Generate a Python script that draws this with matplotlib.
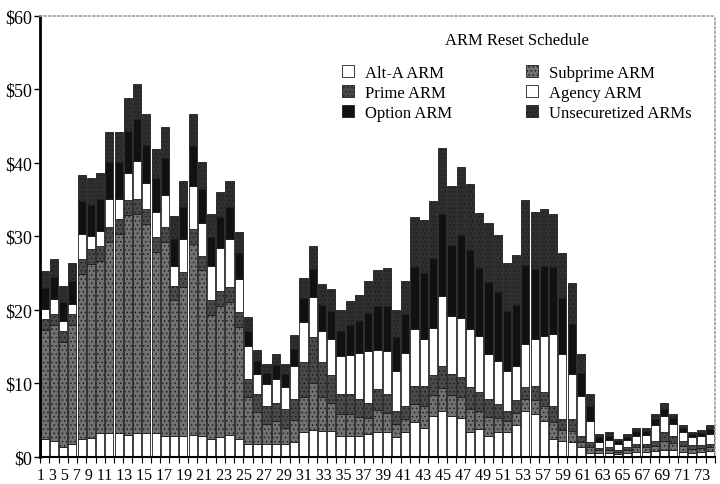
import numpy as np
import matplotlib
matplotlib.use("Agg")
import matplotlib.pyplot as plt

plt.rcParams['font.family'] = ['Liberation Serif', 'DejaVu Serif']
plt.rcParams['hatch.linewidth'] = 0.6

# ARM reset amounts, $ billions, 73 months
agency = [2.4,2.2,1.4,1.8,2.4,2.6,3.3,3.3,3.3,3.0, 3.3,3.3,3.2,2.9,2.9,2.9,3.0,2.9,2.5,2.7,
          3.0,2.5,1.8,1.8,1.8,1.8,1.8,2.0,3.4,3.7, 3.5,3.6,2.9,2.9,2.9,3.1,3.4,3.4,2.7,3.4,
          4.7,4.0,5.6,6.3,5.6,5.3,3.4,3.8,2.9,3.4, 3.4,4.3,6.3,5.9,4.9,2.4,2.2,2.0,1.3,0.6,
          0.5,0.5,0.4,0.5,0.7,0.7,0.8,0.9,0.9,0.7, 0.6,0.7,0.8]
subprime = [14.9,15.8,14.3,16.2,22.5,23.7,23.4,26.0,27.1,29.9, 29.8,28.4,24.7,26.4,18.4,20.2,26.0,22.5,16.8,17.9,
            18.1,15.2,6.3,4.3,2.7,3.1,2.2,3.0,4.8,6.3, 4.7,3.8,2.9,2.9,2.5,2.2,3.0,2.6,1.8,1.8,
            2.5,2.9,2.8,3.1,2.9,2.8,3.1,2.5,2.5,1.9, 1.5,1.7,1.6,1.9,2.0,2.3,1.5,1.6,0.8,0.7,
            0.4,0.4,0.3,0.4,0.6,0.6,0.7,1.3,1.0,0.8, 0.5,0.5,0.5]
prime = [1.5,1.5,1.5,1.5,2.0,2.0,2.0,2.0,2.0,2.0, 2.0,2.0,2.0,2.0,2.0,2.0,2.0,2.0,2.0,2.0,
         2.0,2.0,2.5,2.5,2.5,2.5,2.5,2.9,4.7,6.3, 4.7,3.7,2.8,2.8,2.5,2.1,2.9,2.6,1.8,1.8,
         2.5,2.8,2.7,3.0,2.8,2.8,3.0,2.5,2.5,1.9, 1.4,1.7,1.6,1.9,1.9,2.3,1.5,1.6,0.8,0.7,
         0.3,0.4,0.3,0.4,0.5,0.5,0.7,1.2,1.0,0.7, 0.5,0.4,0.5]
alta = [1.3,2.0,1.3,1.3,3.4,1.7,2.1,3.8,2.7,3.8, 5.2,3.6,3.4,4.3,2.7,4.6,5.9,4.5,4.7,5.9,
        6.6,4.5,4.5,2.7,2.9,3.2,3.0,4.5,5.4,5.4, 4.3,5.0,5.2,5.3,6.3,7.0,5.3,5.8,5.4,7.2,
        7.7,6.4,6.5,9.5,7.9,8.0,7.9,7.7,6.1,5.9, 5.4,4.7,5.9,6.4,7.7,9.8,8.8,6.1,5.4,2.9,
        0.9,1.0,0.8,1.0,1.1,1.2,2.1,2.2,1.6,1.2, 1.1,1.3,1.3]
option = [2.9,3.0,2.6,3.1,4.5,4.3,4.3,5.0,5.0,5.6, 5.7,5.2,4.7,5.1,3.7,4.3,5.4,4.6,3.9,4.1,
          4.3,3.5,2.1,1.8,1.5,1.9,1.8,2.3,3.3,3.9, 3.5,3.7,3.4,4.0,4.3,5.2,5.9,6.2,4.6,5.3,
          8.4,8.9,9.5,11.1,9.7,11.3,10.8,9.2,9.8,9.4, 8.1,8.3,10.7,9.5,9.5,9.0,7.6,6.8,3.1,2.0,
          0.6,0.6,0.4,0.4,0.6,0.6,0.9,0.9,0.8,0.6, 0.4,0.4,0.7]
unsec = [2.3,2.4,2.2,2.5,3.6,3.6,3.6,4.1,4.1,4.6, 4.7,4.2,3.9,4.2,3.1,3.6,4.4,3.7,3.2,3.4,
         3.6,2.9,1.8,1.5,1.3,1.5,1.4,1.9,2.7,3.1, 2.8,3.1,2.8,3.3,3.6,4.3,4.9,5.1,3.7,4.4,
         6.9,7.2,7.7,9.1,7.9,9.2,8.9,7.5,8.1,7.7, 6.6,6.8,8.8,7.7,7.8,7.3,6.2,5.6,2.6,1.7,
         0.4,0.5,0.3,0.4,0.5,0.4,0.7,0.8,0.6,0.4, 0.3,0.4,0.6]
month_labels = ['1','3','5','7','9','11','13','15','17','19','21','23','25','27','29','31',
                '33','35','37','39','41','43','45','47','49','51','53','57','59','61','63',
                '65','67','69','71','73']
yticks = [0, 10, 20, 30, 40, 50, 60]

x = np.arange(len(agency))
fig = plt.figure(figsize=(7.2, 4.85), dpi=100)
ax = fig.add_axes([0.0556, 0.0557, 0.9374, 0.9093])

# stacking order bottom->top, grayscale like the scan
series = [
    ('Agency ARM', agency, 'white', None),
    ('Subprime ARM', subprime, '#727272', '....'),
    ('Prime ARM', prime, '#4a4a4a', '....'),
    ('Alt-A ARM', alta, 'white', None),
    ('Option ARM', option, '#111111', None),
    ('Unsecuretized ARMs', unsec, '#2e2e2e', '....'),
]
bottom = np.zeros(len(x))
bars = {}
for name, vals, col, hat in series:
    b = ax.bar(x, vals, width=0.88, bottom=bottom, color=col, edgecolor='#1e1e1e',
               linewidth=0.6, hatch=hat, label=name)
    bars[name] = b
    bottom += np.array(vals)

ax.set_xlim(-0.5, len(x) - 0.5)
ax.set_ylim(0, 60)
ax.set_yticks(yticks)
ax.set_yticklabels(['$%d' % v for v in yticks], fontsize=13)
ax.tick_params(axis='y', direction='out', length=4, width=1, pad=2)
ax.set_xticks([])
ax.set_xticks(np.arange(-0.5, len(x), 1), minor=True)
ax.tick_params(axis='x', which='minor', direction='out', length=4, width=0.8)

ax.spines['left'].set_linewidth(2)
ax.spines['bottom'].set_linewidth(1.5)
for s in ['top', 'right']:
    ax.spines[s].set_color('#a0a0a0')
    ax.spines[s].set_linestyle(':')
    ax.spines[s].set_linewidth(1.2)

# month labels printed as one line under the axis, as in the scan
fig.text(37 / 720, 1 - 476 / 485, ' '.join(month_labels), fontsize=11.5,
         ha='left', va='center')

order = ['Alt-A ARM', 'Prime ARM', 'Option ARM', 'Subprime ARM', 'Agency ARM', 'Unsecuretized ARMs']
handles = [bars[n] for n in order]
leg = ax.legend(handles, order, ncol=2, loc='upper right', bbox_to_anchor=(0.988, 0.998),
                frameon=False, fontsize=12, title='ARM Reset Schedule', title_fontsize=12,
                handlelength=0.7, handleheight=0.7, handletextpad=0.7, columnspacing=4.4,
                labelspacing=0.25)
leg._legend_box.sep = 12

fig.savefig('out.png', dpi=100)
